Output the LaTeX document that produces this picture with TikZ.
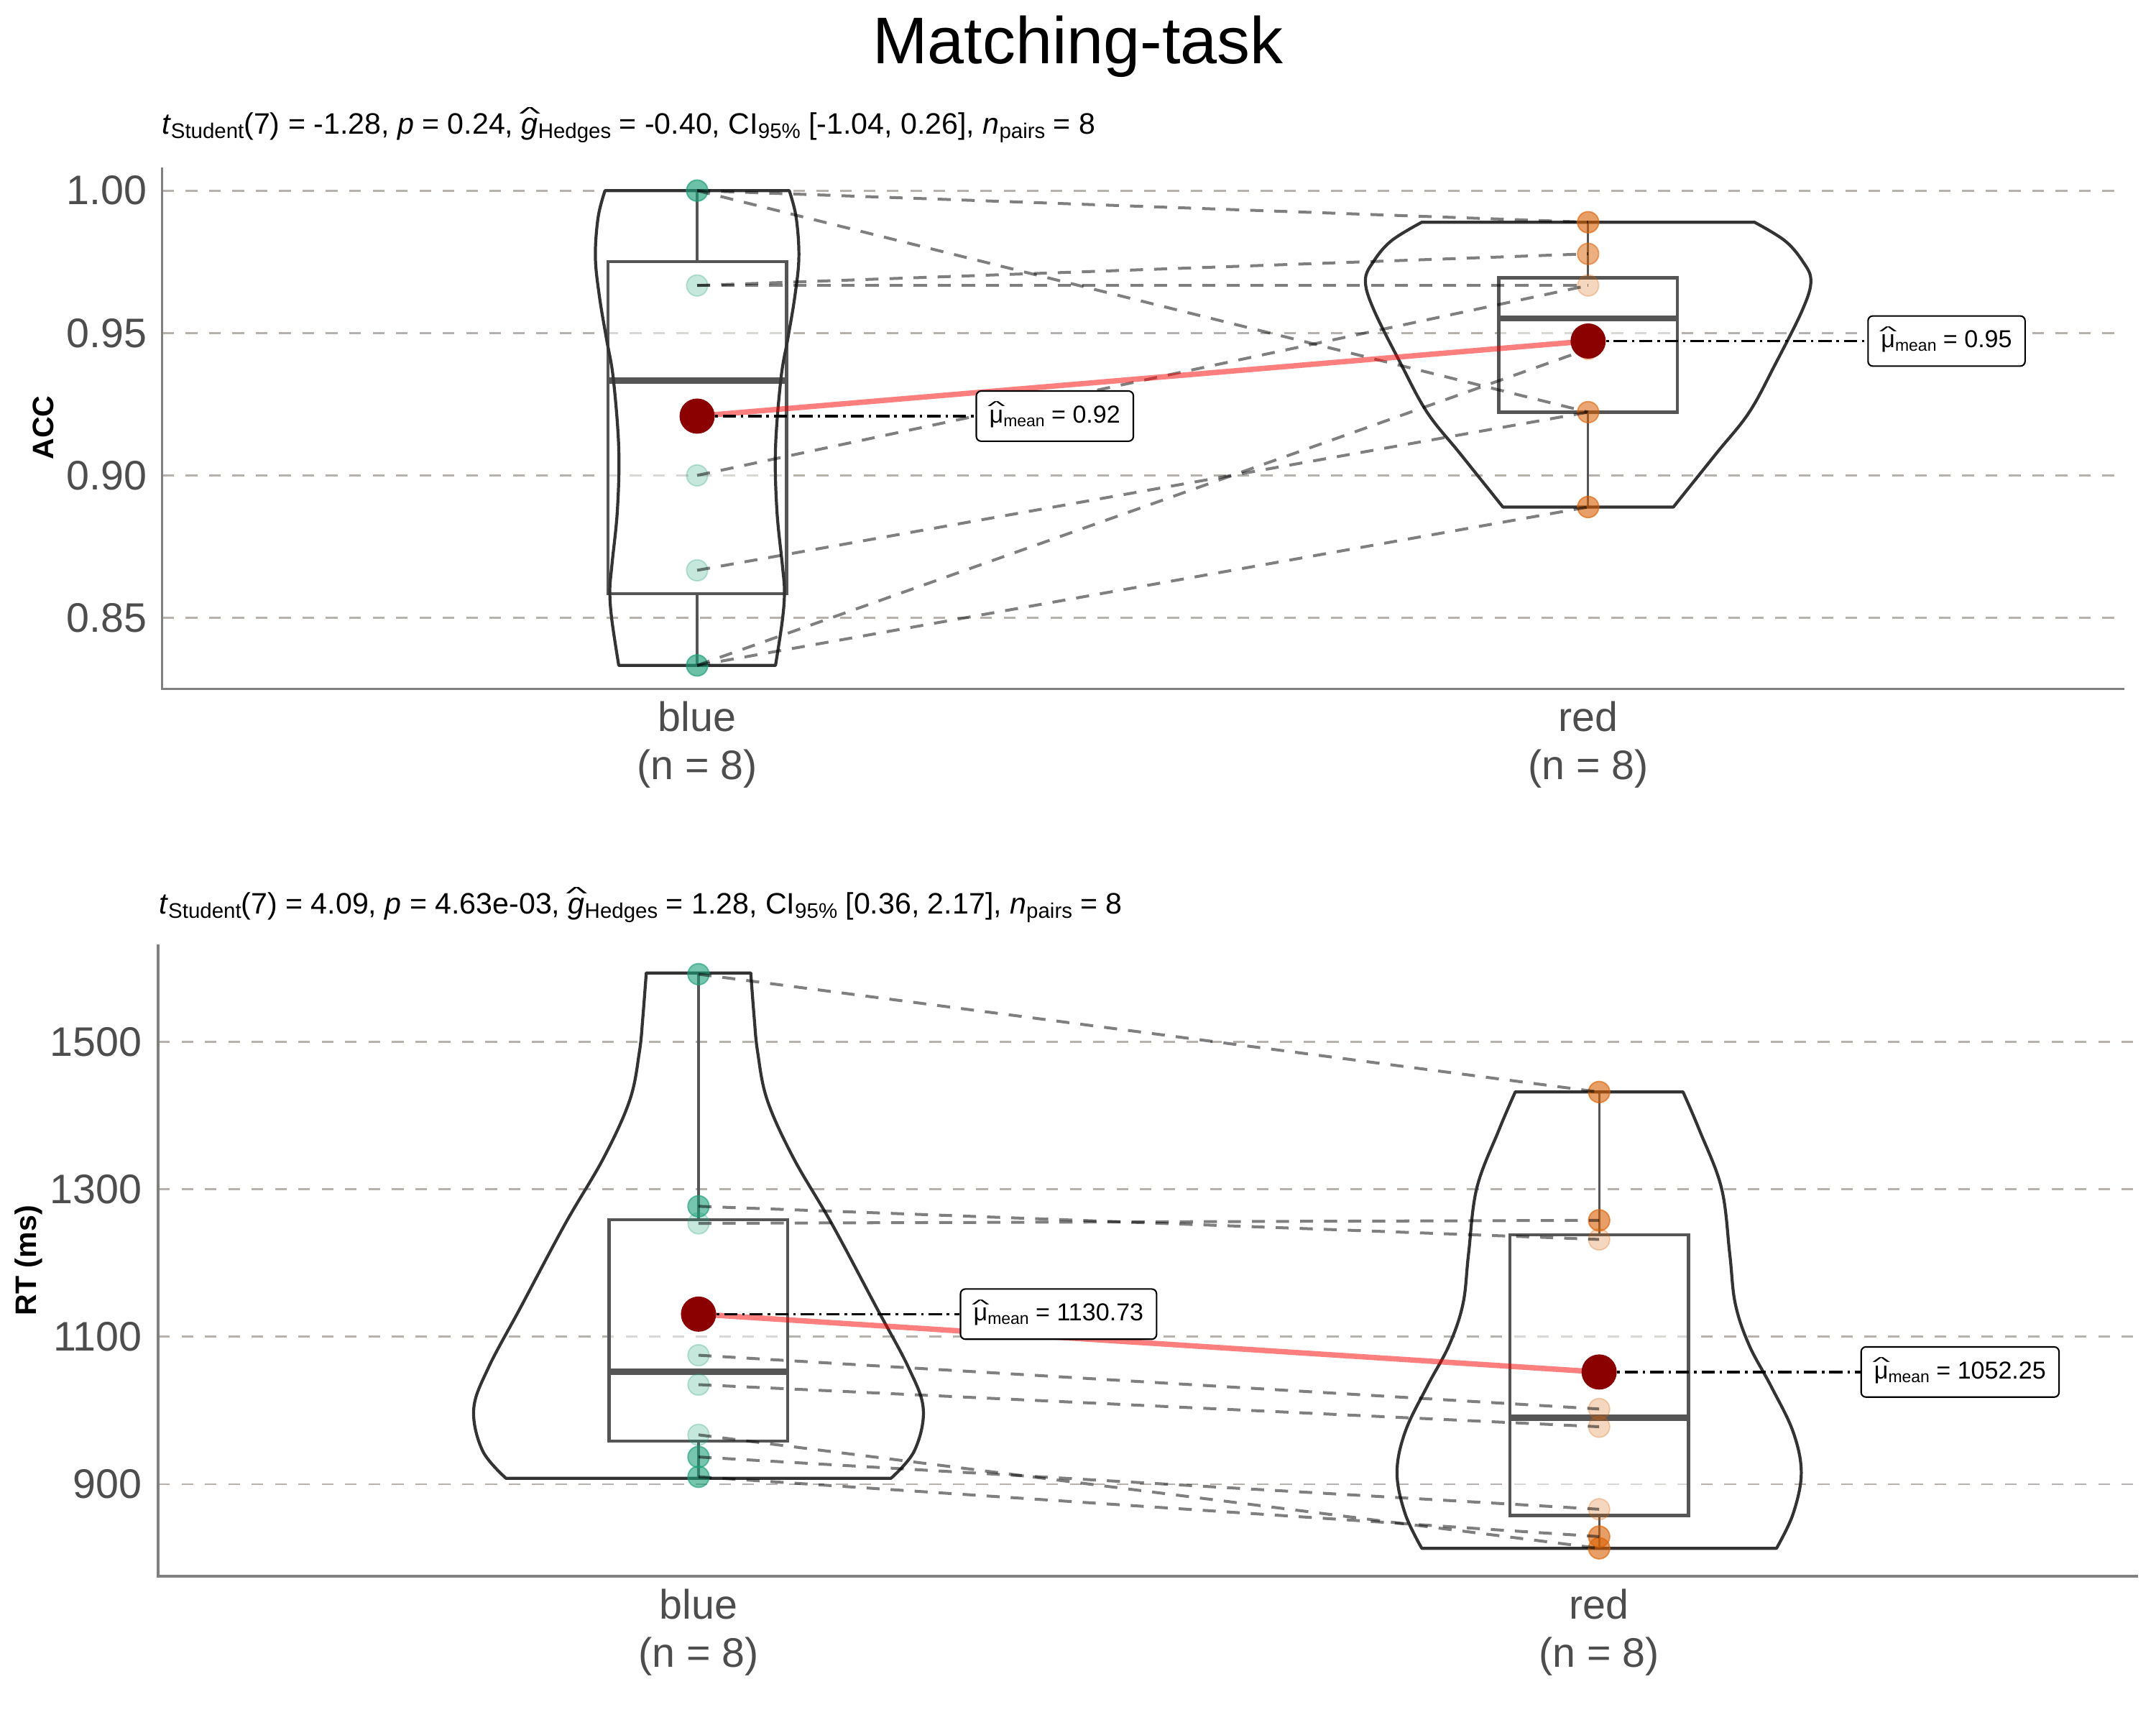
\documentclass[tikz,border=0pt]{standalone}
\usepackage{graphicx}
\usepackage{fontspec}
\setmainfont{Liberation Sans}
\definecolor{gridc}{RGB}{182,177,171}
\definecolor{axisc}{RGB}{128,128,128}
\definecolor{tickc}{RGB}{77,77,77}
\definecolor{violc}{RGB}{51,51,51}
\definecolor{boxc}{RGB}{85,85,85}
\definecolor{tealc}{RGB}{27,158,119}
\definecolor{orangec}{RGB}{217,95,2}
\definecolor{meanc}{RGB}{139,0,0}
\newcommand{\myfs}[1]{\fontsize{#1}{#1}\selectfont}
\newcommand{\subsc}[1]{\raisebox{-3pt}{\myfs{15.4}#1}}
\newcommand{\lsub}[1]{\raisebox{-2.5pt}{\myfs{12}#1}}
\newcommand{\muhat}{\ooalign{μ\cr\hidewidth\raisebox{8.6pt}{\scalebox{1.55}[0.55]{\textasciicircum}}\hidewidth\cr}}
\newcommand{\ghat}{\ooalign{\itshape g\cr\hidewidth\raisebox{10.5pt}{\scalebox{1.55}[0.6]{\textasciicircum}}\hidewidth\cr}}
\begin{document}
\begin{tikzpicture}[x=1pt,y=-1pt,
  gridln/.style={draw=gridc, line width=1.5pt, dash pattern=on 8.5pt off 8.5pt},
  axisl/.style={draw=axisc, line width=1.6pt},
  ticklab/.style={anchor=east, inner sep=0pt, text=tickc, font=\myfs{30}},
  xlab/.style={anchor=base, inner sep=0pt, text=tickc, font=\myfs{30}},
  ylab/.style={rotate=90, inner sep=0pt, font=\bfseries\myfs{21.5}},
  violin/.style={draw=violc, line width=2.2pt, line join=round},
  boxst/.style={draw=boxc, line width=2.2pt, fill=white, fill opacity=0.5},
  medst/.style={draw=boxc, line width=4.5pt},
  whisk/.style={draw=boxc, line width=1.7pt},
  bpt/.style={draw=tealc, fill=tealc, fill opacity=#1, draw opacity=#1, line width=1pt},
  rpt/.style={draw=orangec, fill=orangec, fill opacity=#1, draw opacity=#1, line width=1pt},
  pairln/.style={draw=black, draw opacity=0.5, line width=2.1pt, dash pattern=on 9.5pt off 8pt},
  meanln/.style={draw=red, draw opacity=0.5, line width=3.9pt},
  dashdot/.style={draw=black, line width=1.8pt, dash pattern=on 9.6pt off 3.6pt on 1.8pt off 3.6pt},
  meandot/.style={fill=meanc},
  mlab/.style={draw=black, fill=white, rounded corners=3.5pt, line width=1.1pt, inner xsep=9.5pt, inner ysep=0pt, minimum height=36.5pt, anchor=west, font=\myfs{17.8}},
  subt/.style={anchor=base west, inner sep=0pt, font=\myfs{21.5}},
]
\useasboundingbox (0,0) rectangle (1568,1254.4);

% ---------------- title ----------------
\node[anchor=base, inner sep=0pt, font=\myfs{48}] (title) at (784,46) {Matching-task};

% ================= TOP PANEL =================
\node[subt] (sub1) at (117.4,97.6) {\textit{t}\subsc{Student}(7) = -1.28, \textit{p} = 0.24, \ghat\subsc{Hedges} = -0.40, CI\subsc{95\%} [-1.04, 0.26], \textit{n}\subsc{pairs} = 8};

\foreach \yy in {138.6,242.2,345.7,449.3} \draw[gridln] (118,\yy) -- (1545,\yy);
\draw[axisl] (118,121.8) -- (118,500.9) -- (1545,500.9);

\node[ticklab] (ta1) at (107,138.6) {1.00};
\node[ticklab] (ta2) at (107,242.2) {0.95};
\node[ticklab] (ta3) at (107,345.7) {0.90};
\node[ticklab] (ta4) at (107,449.3) {0.85};
\node[ylab] (yA) at (31.4,311) {ACC};
\node[xlab] (xa1) at (507,532) {blue};
\node[xlab] (xa2) at (507,566.8) {(n = 8)};
\node[xlab] (xa3) at (1155,532) {red};
\node[xlab] (xa4) at (1155,566.8) {(n = 8)};

% boxes
\draw[boxst] (442,190.4) rectangle (572,431.9);
\draw[medst] (442,276.7) -- (572,276.7);
\draw[whisk] (507,138.6) -- (507,190.4) (507,431.9) -- (507,483.9);
\draw[boxst] (1090,202) rectangle (1220,299.7);
\draw[medst] (1090,231.5) -- (1220,231.5);
\draw[whisk] (1155,161.6) -- (1155,202) (1155,299.7) -- (1155,368.7);

% violins
\draw[violin] plot[smooth, tension=0.6] coordinates {(574,138.6) (579,158) (581,187) (578,216) (573,246) (568,275) (564,326) (565,371) (569,411) (570.5,430) (569,451) (564,483.9)}
  -- plot[smooth, tension=0.6] coordinates {(450,483.9) (445,451) (443.5,430) (445,411) (449,371) (450,326) (446,275) (441,246) (436,216) (433,187) (435,158) (440,138.6)} -- cycle;
\draw[violin] plot[smooth, tension=0.6] coordinates {(1276,161.6) (1298,175) (1311,190) (1317,204) (1311,225) (1291,265) (1272,300) (1248,330) (1217,368.7)}
  -- plot[smooth, tension=0.6] coordinates {(1093,368.7) (1062,330) (1038,300) (1019,265) (999,225) (993,204) (999,190) (1012,175) (1034,161.6)} -- cycle;

% points
\coordinate (a1) at (507,138.6); \coordinate (a2) at (507,207.6); \coordinate (a3) at (507,345.7);
\coordinate (a4) at (507,414.7); \coordinate (a5) at (507,483.9);
\coordinate (r1) at (1155,161.6); \coordinate (r2) at (1155,184.6); \coordinate (r3) at (1155,207.6);
\coordinate (r4) at (1155,253.8); \coordinate (r5) at (1155,299.7); \coordinate (r6) at (1155,368.7);
\foreach \p/\o in {a1/0.65,a2/0.25,a3/0.25,a4/0.25,a5/0.65} \filldraw[bpt=\o] (\p) circle (7.7);
\foreach \p/\o in {r1/0.6,r2/0.5,r3/0.25,r4/0.25,r5/0.55,r6/0.6} \filldraw[rpt=\o] (\p) circle (7.7);
\foreach \s/\t in {a1/r1,a1/r5,a2/r2,a2/r3,a3/r3,a4/r5,a5/r4,a5/r6} \draw[pairln] (\s) -- (\t);

% means
\coordinate (mA) at (507,302.6);
\coordinate (mB) at (1155,248);
\draw[meanln] (mA) -- (mB);
\node[mlab] (lA) at (709.5,302.6) {\muhat\lsub{mean} = 0.92};
\node[mlab] (lB) at (1358,248) {\muhat\lsub{mean} = 0.95};
\draw[dashdot] (mA) -- (lA.west);
\draw[dashdot] (mB) -- (lB.west);
\fill[meandot] (mA) circle (12.8);
\fill[meandot] (mB) circle (12.8);

% ================= BOTTOM PANEL =================
\node[subt] (sub2) at (115.5,664.8) {\textit{t}\subsc{Student}(7) = 4.09, \textit{p} = 4.63e-03, \ghat\subsc{Hedges} = 1.28, CI\subsc{95\%} [0.36, 2.17], \textit{n}\subsc{pairs} = 8};

\foreach \yy in {757.7,864.9,972.1,1079.3} \draw[gridln] (115,\yy) -- (1555,\yy);
\draw[axisl] (115,686.9) -- (115,1146.2) -- (1555,1146.2);

\node[ticklab] (tb1) at (103.5,757.7) {1500};
\node[ticklab] (tb2) at (103.5,864.9) {1300};
\node[ticklab] (tb3) at (103.5,972.1) {1100};
\node[ticklab] (tb4) at (103.5,1079.3) {900};
\node[ylab] (yB) at (21,916.6) {RT (ms)};
\node[xlab] (xb1) at (508,1177.3) {blue};
\node[xlab] (xb2) at (508,1212.1) {(n = 8)};
\node[xlab] (xb3) at (1163,1177.3) {red};
\node[xlab] (xb4) at (1163,1212.1) {(n = 8)};

% boxes
\draw[boxst] (443,887) rectangle (573,1048);
\draw[medst] (443,997.5) -- (573,997.5);
\draw[whisk] (508,708.4) -- (508,887) (508,1048) -- (508,1073.9);
\draw[boxst] (1098,898) rectangle (1228,1102);
\draw[medst] (1098,1031) -- (1228,1031);
\draw[whisk] (1163,794.1) -- (1163,898) (1163,1102) -- (1163,1125.9);

% violins
\draw[violin] plot[smooth, tension=0.6] coordinates {(546,707.5) (548.5,740) (551,765) (558,800) (577,842) (605,890) (637,950) (661,995) (671.5,1025) (665,1055) (648,1075)}
  -- plot[smooth, tension=0.6] coordinates {(368,1075) (351,1055) (344.5,1025) (355,995) (379,950) (411,890) (439,842) (458,800) (465,765) (467.5,740) (470,707.5)} -- cycle;
\draw[violin] plot[smooth, tension=0.6] coordinates {(1224,794) (1236,822) (1252,864) (1258,912) (1262,948) (1272,978) (1288,1008) (1304,1041) (1310,1071) (1304,1101) (1292,1125.9)}
  -- plot[smooth, tension=0.6] coordinates {(1034,1125.9) (1022,1101) (1016,1071) (1022,1041) (1038,1008) (1054,978) (1064,948) (1068,912) (1074,864) (1090,822) (1102,794)} -- cycle;

% points
\coordinate (c1) at (508,708.4); \coordinate (c2) at (508,877.2); \coordinate (c3) at (508,889.6);
\coordinate (c4) at (508,985.5); \coordinate (c5) at (508,1006.9); \coordinate (c6) at (508,1043.4);
\coordinate (c7) at (508,1059.5); \coordinate (c8) at (508,1073.9);
\coordinate (d1) at (1163,794.1); \coordinate (d2) at (1163,887.4); \coordinate (d3) at (1163,901.3);
\coordinate (d4) at (1163,1024.6); \coordinate (d5) at (1163,1037.5); \coordinate (d6) at (1163,1097.5);
\coordinate (d7) at (1163,1117.4); \coordinate (d8) at (1163,1125.9);
\foreach \p/\o in {c1/0.6,c2/0.6,c3/0.25,c4/0.25,c5/0.25,c6/0.25,c7/0.6,c8/0.6} \filldraw[bpt=\o] (\p) circle (7.7);
\foreach \p/\o in {d1/0.6,d2/0.6,d3/0.25,d4/0.25,d5/0.25,d6/0.25,d7/0.6,d8/0.6} \filldraw[rpt=\o] (\p) circle (7.7);
\foreach \s/\t in {c1/d1,c2/d3,c3/d2,c4/d4,c5/d5,c6/d8,c7/d6,c8/d7} \draw[pairln] (\s) -- (\t);

% means
\coordinate (mC) at (508,955.6);
\coordinate (mD) at (1163,997.7);
\draw[meanln] (mC) -- (mD);
\node[mlab] (lC) at (698,955.6) {\muhat\lsub{mean} = 1130.73};
\node[mlab] (lD) at (1353,997.7) {\muhat\lsub{mean} = 1052.25};
\draw[dashdot] (mC) -- (lC.west);
\draw[dashdot] (mD) -- (lD.west);
\fill[meandot] (mC) circle (12.8);
\fill[meandot] (mD) circle (12.8);
\end{tikzpicture}
\end{document}
